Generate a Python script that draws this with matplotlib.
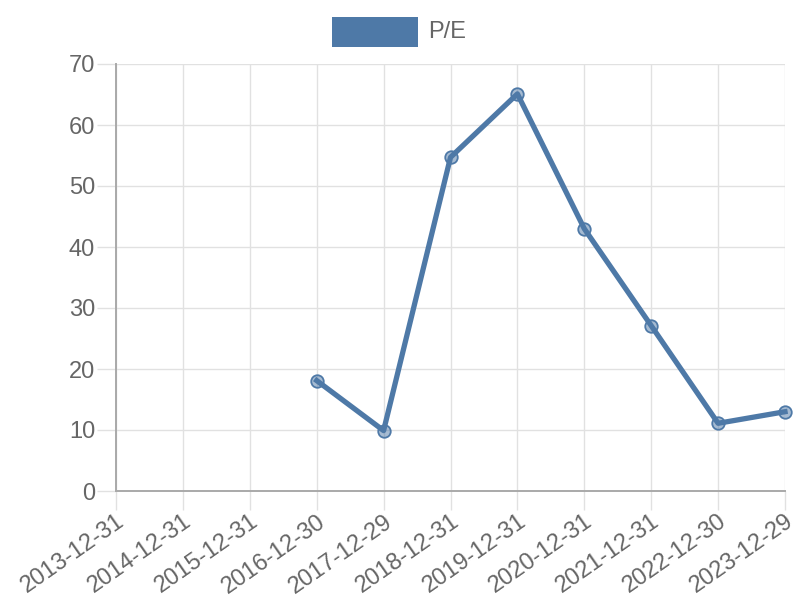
import numpy as np
import matplotlib
matplotlib.use("Agg")
import matplotlib.pyplot as plt
from matplotlib.patches import Rectangle

plt.rcParams["font.family"] = ["Liberation Sans", "DejaVu Sans"]

# data
dates = ["2013-12-31", "2014-12-31", "2015-12-31", "2016-12-30", "2017-12-29",
         "2018-12-31", "2019-12-31", "2020-12-31", "2021-12-31", "2022-12-30",
         "2023-12-29"]
pe_values = [np.nan, np.nan, np.nan, 18.1, 9.9, 54.7, 65.1, 43.0, 27.1, 11.1, 13.0]
y_ticks = [0, 10, 20, 30, 40, 50, 60, 70]

LINE_COLOR = "#4e79a7"
TEXT_COLOR = "#666666"
GRID_COLOR = "#e1e1e1"
AXIS_COLOR = "#a9a9a9"

fig = plt.figure(figsize=(8, 6), dpi=100)
ax = fig.add_axes([116 / 800, 109 / 600, (785 - 116) / 800, (491 - 64) / 600])

x = np.arange(len(dates))
ax.plot(x, pe_values, color=LINE_COLOR, linewidth=3.8, zorder=3, clip_on=False,
        marker="o", markersize=9, markerfacecolor=(78 / 255, 121 / 255, 167 / 255, 0.5),
        markeredgecolor=LINE_COLOR, markeredgewidth=1.3)

ax.set_xlim(0, len(dates) - 1)
ax.set_ylim(0, 70)
ax.set_xticks(x)
ax.set_xticklabels(dates, rotation=35, ha="right", va="top", rotation_mode="anchor")
ax.set_yticks(y_ticks)

ax.grid(True, color=GRID_COLOR, linewidth=1.0, zorder=0)
ax.set_axisbelow(True)
for side in ["top", "right"]:
    ax.spines[side].set_visible(False)
for side in ["left", "bottom"]:
    ax.spines[side].set_color(AXIS_COLOR)
    ax.spines[side].set_linewidth(1.4)

ax.tick_params(axis="both", colors=GRID_COLOR, length=14, width=1.0,
               labelcolor=TEXT_COLOR, labelsize=17)
ax.tick_params(axis="y", pad=1)
ax.tick_params(axis="x", pad=0)

# legend drawn like the original: wide filled box plus label
fig.patches.append(Rectangle((332 / 800, 1 - 47 / 600), 86 / 800, 30 / 600,
                             transform=fig.transFigure, facecolor=LINE_COLOR,
                             edgecolor="none"))
fig.text(428 / 800, 1 - 32 / 600, "P/E", color=TEXT_COLOR, fontsize=17,
         ha="left", va="center")

fig.savefig("out.png", dpi=100, facecolor="white")
